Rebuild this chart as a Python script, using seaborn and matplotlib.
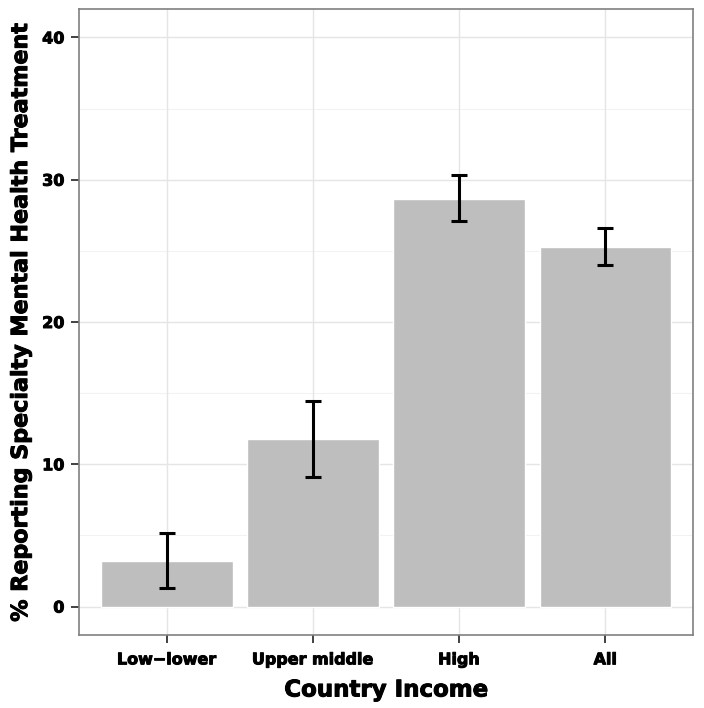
import matplotlib
matplotlib.use("Agg")
import matplotlib.pyplot as plt
import matplotlib.patheffects as pe
import seaborn as sns
import numpy as np

# datos
categorias = ["Low\u2212lower", "Upper middle", "High", "All"]
porcentaje = [3.2, 11.75, 28.65, 25.25]
ic_bajo = [1.3, 9.1, 27.1, 24.0]
ic_alto = [5.15, 14.45, 30.3, 26.6]

sns.set_theme(style="white")
plt.rcParams['font.family'] = ['DejaVu Sans']
plt.rcParams['font.weight'] = 'bold'

fig = plt.figure(figsize=(7.04, 7.08), dpi=100)
ax = fig.add_axes([79/704, 73/708, 614/704, 626/708])

# grilla estilo theme_bw
for v in [5, 15, 25, 35]:
    ax.axhline(v, color="#F2F2F2", lw=0.8, zorder=0)
for v in [0, 10, 20, 30, 40]:
    ax.axhline(v, color="#E5E5E5", lw=1.0, zorder=0)
for i in range(len(categorias)):
    ax.axvline(i, color="#E5E5E5", lw=1.0, zorder=0)

sns.barplot(x=categorias, y=porcentaje, color="#BEBEBE", saturation=1,
            width=0.9, ax=ax, zorder=2, errorbar=None)

pos = np.arange(len(categorias))
err = [np.array(porcentaje) - np.array(ic_bajo), np.array(ic_alto) - np.array(porcentaje)]
ax.errorbar(pos, porcentaje, yerr=err, fmt="none", ecolor="black",
            elinewidth=2.2, capsize=5.5, capthick=2.2, zorder=3)

ax.set_xlim(-0.6, 3.6)
ax.set_ylim(-2, 42)
ax.set_yticks([0, 10, 20, 30, 40])
ax.grid(False)

for s in ax.spines.values():
    s.set_color("#808080")
    s.set_linewidth(1.2)

ax.tick_params(axis="both", which="both", direction="out", length=5.5, width=1.3,
               color="#333333", labelsize=11.5, labelcolor="black", pad=4)
ax.tick_params(axis="x", bottom=True, pad=7)
ax.tick_params(axis="y", left=True, pad=5)
trazo = [pe.withStroke(linewidth=0.7, foreground="black")]
for t in ax.get_xticklabels() + ax.get_yticklabels():
    t.set_fontweight("bold")
    t.set_path_effects(trazo)

ax.set_xlabel("Country Income", fontsize=16.5, fontweight="bold", labelpad=8,
              color="black", path_effects=trazo)
ax.set_ylabel("% Reporting Specialty Mental Health Treatment", fontsize=16,
              fontweight="bold", labelpad=8, color="black", path_effects=trazo)

fig.savefig("out.png", dpi=100)
